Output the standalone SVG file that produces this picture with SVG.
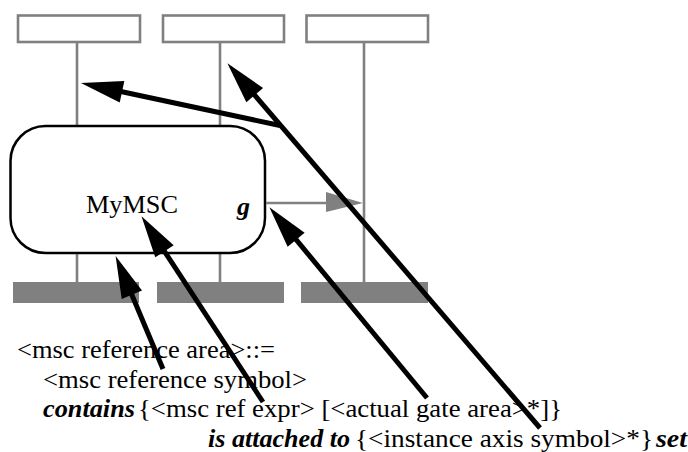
<svg xmlns="http://www.w3.org/2000/svg" width="688" height="452" viewBox="0 0 688 452">
<defs>
<style>
.head{fill:#fff;stroke:#808080;stroke-width:2.6}
.axis{stroke:#808080;stroke-width:2.6;fill:none}
.foot{fill:#808080;stroke:none}
.ref{fill:#fff;stroke:#000;stroke-width:2.5}
.t{font-family:'Liberation Serif','Times New Roman',serif;font-size:26px;fill:#000}
.bi{font-weight:bold;font-style:italic}
.arr{stroke:#000;stroke-width:5;fill:none;marker-end:url(#ah)}
</style>
<marker id="ah" markerUnits="userSpaceOnUse" markerWidth="42" markerHeight="22" refX="12" refY="11" orient="auto" overflow="visible">
<path d="M0,0 L42,11 L0,22 z" fill="#000"/>
</marker>
</defs>
<rect width="688" height="452" fill="#fff"/>
<g id="instance1">
<rect class="head" x="18" y="15.5" width="122" height="26.5"/>
<line class="axis" x1="77" y1="42" x2="77" y2="282"/>
<rect class="foot" x="13" y="282" width="126" height="21"/>
</g>
<g id="instance2">
<rect class="head" x="163" y="15.5" width="121" height="26.5"/>
<line class="axis" x1="220" y1="42" x2="220" y2="282"/>
<rect class="foot" x="157" y="282" width="127" height="21"/>
</g>
<g id="instance3">
<rect class="head" x="306.5" y="15.5" width="121.5" height="26.5"/>
<line class="axis" x1="364" y1="42" x2="364" y2="282"/>
<rect class="foot" x="301" y="282" width="127" height="21"/>
</g>
<g id="mscref">
<rect class="ref" x="10.5" y="126" width="254.5" height="127" rx="35" ry="35"/>
<text class="t" x="86" y="213" textLength="92" lengthAdjust="spacingAndGlyphs">MyMSC</text>
</g>
<g id="gate">
<text class="t bi" x="237" y="215">g</text>
<line class="axis" x1="266" y1="203" x2="330" y2="203"/>
<polygon points="326,192 363,203 326,212" fill="#808080"/>
</g>
<g id="connectors">
<line class="arr" x1="280" y1="125.5" x2="110.3" y2="89.2"/>
<line class="arr" x1="540" y1="428" x2="246.9" y2="86"/>
<line class="arr" x1="427" y1="398" x2="288.5" y2="230.4"/>
<line class="arr" x1="263" y1="402" x2="157.9" y2="241.3"/>
<line class="arr" x1="163" y1="369" x2="127.2" y2="283.7"/>
</g>
<g id="grammar">
<text class="t" x="17" y="358" textLength="258" lengthAdjust="spacingAndGlyphs">&lt;msc reference area&gt;::=</text>
<text class="t" x="43" y="388" textLength="264" lengthAdjust="spacingAndGlyphs">&lt;msc reference symbol&gt;</text>
<text class="t bi" x="43" y="417" textLength="92" lengthAdjust="spacingAndGlyphs">contains</text>
<text class="t" x="138" y="417" textLength="424" lengthAdjust="spacingAndGlyphs">{&lt;msc ref expr&gt; [&lt;actual gate area&gt;*]}</text>
<text class="t bi" x="208" y="447" textLength="142" lengthAdjust="spacingAndGlyphs">is attached to</text>
<text class="t" x="355" y="447" textLength="298" lengthAdjust="spacingAndGlyphs">{&lt;instance axis symbol&gt;*}</text>
<text class="t bi" x="656" y="447" textLength="31" lengthAdjust="spacingAndGlyphs">set</text>
</g>
</svg>
